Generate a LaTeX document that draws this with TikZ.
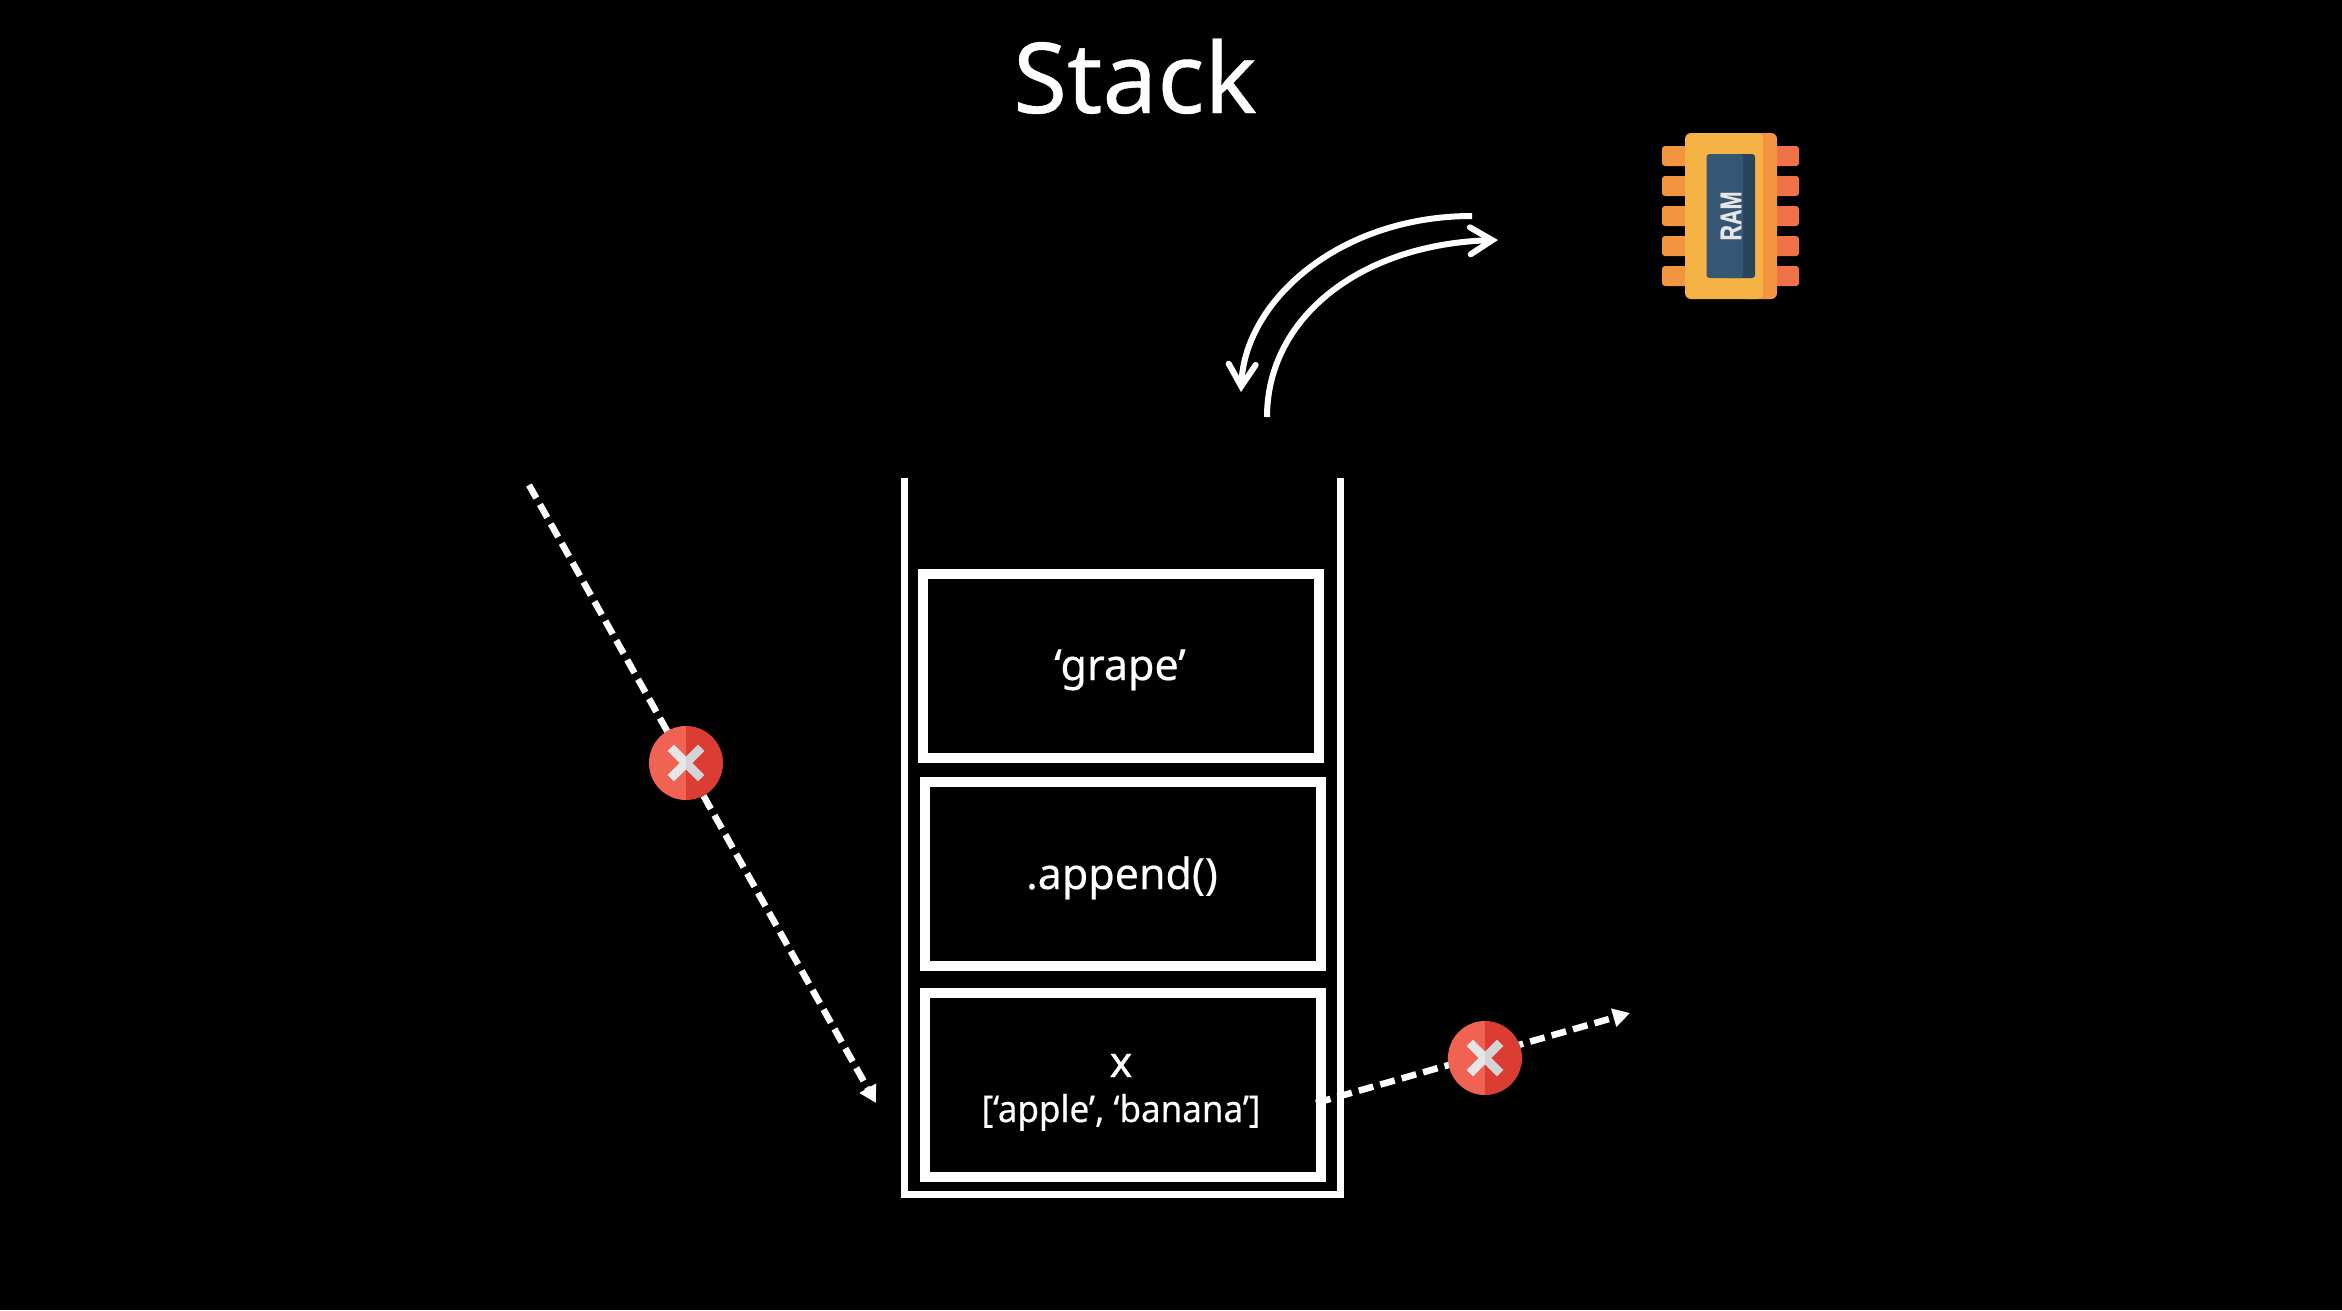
\documentclass[tikz,border=0pt]{standalone}
\usepackage{fontspec}
\setmainfont{Noto Sans}[FakeBold=0.4]
\newfontfamily\heavyfont{Noto Sans}[FakeBold=0.4]
\newfontfamily\ramfont{Liberation Sans Bold}[FakeBold=0.5]
\usetikzlibrary{arrows.meta}
\definecolor{chiplight}{HTML}{F5B345}
\definecolor{chipmid}{HTML}{F29440}
\definecolor{chippin}{HTML}{EF7346}
\definecolor{screenlight}{HTML}{365673}
\definecolor{screendark}{HTML}{27455A}
\definecolor{redlight}{HTML}{F06353}
\definecolor{reddark}{HTML}{DC3D33}
\definecolor{xlight}{HTML}{E6E6E6}
\definecolor{xdark}{HTML}{D4D4D8}
\tikzset{
  stackbox/.style={draw=white,line width=10pt,fill=black,minimum width=396pt,minimum height=184pt,inner sep=0pt,outer sep=0pt,rectangle},
  wall/.style={draw=white,line width=7pt,line join=miter},
  boxtext/.style={text=white,anchor=base,inner sep=0pt,font=\heavyfont\fontsize{43pt}{43pt}\selectfont},
  flow/.style={draw=white,line width=6pt,-{Straight Barb[length=22pt,width=27pt,line cap=round,line join=miter]}},
  blocked/.style={draw=white,line width=6.5pt,dash pattern=on 15pt off 7.28pt,-{Triangle[length=17pt,width=18pt,fill=white]}},
  chippad/.style={rounded corners=3pt,fill=#1},
  nogo/.pic={
    \fill[redlight] (0,37) arc[start angle=90,end angle=270,radius=37] -- cycle;
    \fill[reddark] (0,-37) arc[start angle=-90,end angle=90,radius=37] -- cycle;
    \fill[xlight] (0,-6.3) -- (-12,-18.3) -- (-18.3,-12) -- (-6.3,0) -- (-18.3,12) -- (-12,18.3) -- (0,6.3) -- cycle;
    \fill[xdark] (0,-6.3) -- (12,-18.3) -- (18.3,-12) -- (6.3,0) -- (18.3,12) -- (12,18.3) -- (0,6.3) -- cycle;
  }
}
\begin{document}
\begin{tikzpicture}[x=1pt,y=-1pt]
\fill[black] (0,0) rectangle (2342,1310);
\useasboundingbox (0,0) rectangle (2342,1310);

\node[text=white,anchor=base,inner sep=0pt,font=\heavyfont\fontsize{98pt}{98pt}\selectfont] (title) at (1135,113) {Stack};

% stack container
\draw[wall] (904.5,478) -- (904.5,1194) -- (1340.5,1194) -- (1340.5,478);
\node[stackbox] (boxa) at (1121,666) {};
\node[stackbox] (boxb) at (1123,874) {};
\node[stackbox] (boxc) at (1123,1085) {};
\node[boxtext] (grape) at (1120,680) {‘grape’};
\node[boxtext] (append) at (1122,889) {.append()};
\node[boxtext] (xname) at (1121,1077) {x};
\node[boxtext,font=\heavyfont\fontsize{37pt}{37pt}\selectfont,xscale=.945] (xvalue) at (1121,1122) {[‘apple’, ‘banana’]};

% curved arrows
\coordinate (ca) at (1472,216);
\coordinate (cb) at (1241,392);
\coordinate (cc) at (1267,417);
\coordinate (cd) at (1498,240);
\draw[flow] (ca) .. controls (1340,216) and (1245,300) .. (cb);
\draw[flow] (cc) .. controls (1267,318) and (1360,244) .. (cd);

% dashed arrows
\coordinate (da) at (529,485);
\coordinate (db) at (876,1103);
\coordinate (dc) at (1316,1103);
\coordinate (dd) at (1630,1013);
\draw[blocked] (da) -- (db);
\draw[blocked] (dc) -- (dd);
\pic at (686,763) {nogo};
\pic at (1485,1058) {nogo};

% RAM chip
\foreach \py in {156,186,216,246,276}{
  \fill[chippad=chipmid] (1662,\py-10) rectangle (1695,\py+10);
  \fill[chippad=chippin] (1767,\py-10) rectangle (1799,\py+10);
}
\fill[chipmid,rounded corners=6pt] (1740,133) rectangle (1777,299);
\fill[chiplight,rounded corners=6pt] (1685,133) -- (1763,133) -- (1763,299) -- (1685,299) -- cycle;
\fill[screendark,rounded corners=3pt] (1725,154) rectangle (1755,278);
\fill[screenlight,rounded corners=3pt] (1706.5,154) -- (1743,154) -- (1743,278) -- (1706.5,278) -- cycle;
\node[rotate=90,text=xlight,inner sep=0pt,font=\ramfont\fontsize{30pt}{30pt}\selectfont,xscale=.72] (ram) at (1731,216) {RAM};
\end{tikzpicture}
\end{document}
